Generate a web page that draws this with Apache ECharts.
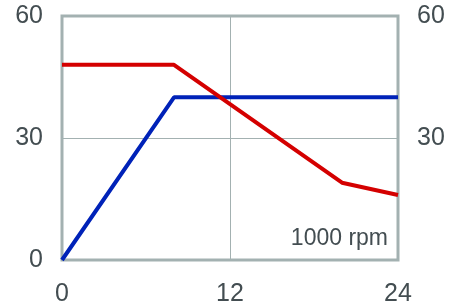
<!DOCTYPE html>
<html>
<head>
<meta charset="utf-8">
<script src="https://cdn.jsdelivr.net/npm/echarts@6/dist/echarts.min.js"></script>
<style>
  html, body { margin: 0; padding: 0; background: #fff; }
  #chart { width: 449px; height: 307px; }
</style>
</head>
<body>
<div id="chart"></div>
<script>
// x in 1000 rpm
var redData = [[0, 48], [8, 48], [20, 19], [24, 16]];
var blueData = [[0, 0], [8, 40], [24, 40]];
var xTicks = [0, 12, 24];
var yTicks = [0, 30, 60];
var unitLabel = "1000 rpm";

var textColor = "#434d51";
var frameColor = "#a3b1b1";

var myChart = echarts.init(document.getElementById("chart"));

var option = {
  animation: false,
  grid: {
    left: 62,
    right: 51,
    top: 16,
    bottom: 47,
    show: true,
    borderColor: frameColor,
    borderWidth: 3,
    backgroundColor: "transparent",
  },
  xAxis: {
    type: "value",
    min: xTicks[0],
    max: xTicks[xTicks.length - 1],
    interval: 12,
    axisLine: { show: false },
    axisTick: { show: false },
    axisLabel: {
      color: textColor,
      fontSize: 25,
      fontFamily: "Liberation Sans",
      margin: 22,
    },
    splitLine: { lineStyle: { color: frameColor, width: 1 } },
  },
  yAxis: [
    {
      type: "value",
      min: yTicks[0],
      max: yTicks[yTicks.length - 1],
      interval: 30,
      axisLine: { show: false },
      axisTick: { show: false },
      axisLabel: {
        color: textColor,
        fontSize: 25,
        fontFamily: "Liberation Sans",
        margin: 19,
      },
      splitLine: { lineStyle: { color: frameColor, width: 1 } },
    },
    {
      type: "value",
      position: "right",
      min: yTicks[0],
      max: yTicks[yTicks.length - 1],
      interval: 30,
      axisLine: { show: false },
      axisTick: { show: false },
      axisLabel: {
        color: textColor,
        fontSize: 25,
        fontFamily: "Liberation Sans",
        margin: 19,
        formatter: function (v) {
          return v === 0 ? "" : String(v);
        },
      },
      splitLine: { show: false },
    },
  ],
  graphic: [
    {
      type: "text",
      right: 61,
      top: 227,
      style: {
        text: unitLabel,
        fill: textColor,
        fontSize: 23,
        fontFamily: "Liberation Sans",
      },
    },
  ],
  series: [
    {
      type: "line",
      data: blueData,
      symbol: "none",
      lineStyle: { color: "#0022b8", width: 4 },
      z: 3,
    },
    {
      type: "line",
      data: redData,
      symbol: "none",
      lineStyle: { color: "#d40000", width: 4 },
      z: 4,
    },
  ],
};

myChart.setOption(option);
</script>
</body>
</html>
